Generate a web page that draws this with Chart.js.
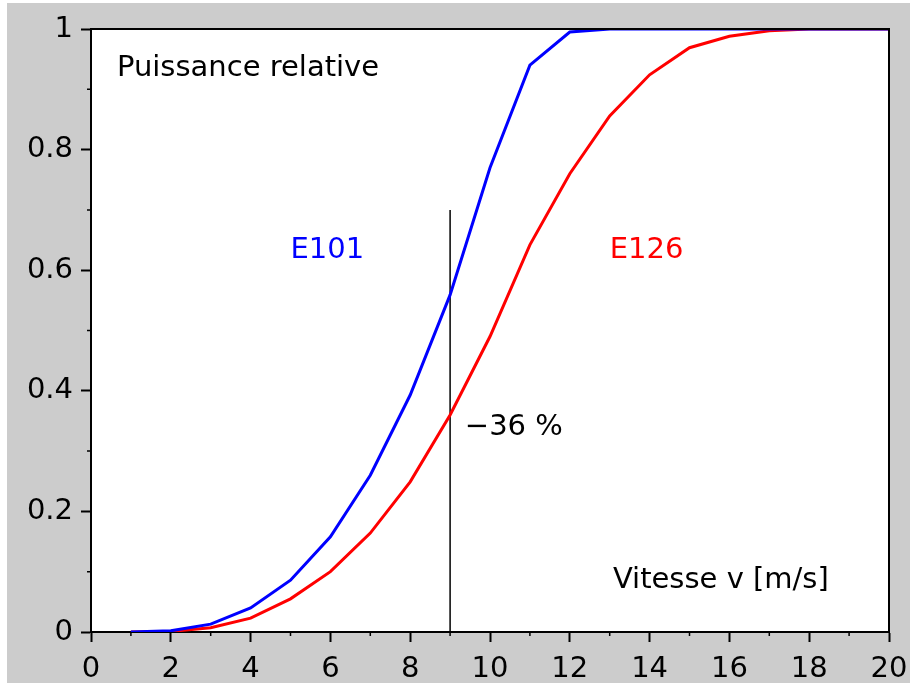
<!DOCTYPE html>
<html>
<head>
<meta charset="utf-8">
<script src="https://cdn.jsdelivr.net/npm/chart.js@4/dist/chart.umd.min.js"></script>
<style>
	html, body { margin: 0; padding: 0; background: #fff; }
	#chart { position: absolute; left: 7px; top: 3px; }
</style>
</head>
<body>
<canvas id="chart" width="903" height="680"></canvas>
<script>
// Vitesse du vent [m/s]
var vitesse = [1, 2, 3, 4, 5, 6, 7, 8, 9, 10, 11, 12, 13, 14, 15, 16, 17, 18, 19, 20];
// Puissance relative
var e101 = [0, 0.002, 0.013, 0.04, 0.086, 0.158, 0.26, 0.393, 0.559, 0.77, 0.94, 0.995, 1, 1, 1, 1, 1, 1, 1, 1];
var e126 = [0, 0.001, 0.007, 0.023, 0.055, 0.1, 0.164, 0.249, 0.36, 0.49, 0.642, 0.76, 0.856, 0.924, 0.969, 0.988, 0.997, 1, 1, 1];
// repere vertical a 9 m/s
var repereX = [9, 9];
var repereY = [0, 0.7];

var xTicks = [0, 2, 4, 6, 8, 10, 12, 14, 16, 18, 20];
var yTicks = [0, 0.2, 0.4, 0.6, 0.8, 1];

var FONT = '"DejaVu Sans", sans-serif';

function pts(xs, ys) {
	return xs.map(function(x, i) { return { x: x, y: ys[i] }; });
}

var decorPlugin = {
	id: 'decor',
	beforeDraw: function(chart) {
		var c = chart.ctx, a = chart.chartArea;
		c.save();
		c.fillStyle = '#cccccc';
		c.fillRect(0, 0, chart.width, chart.height);
		c.fillStyle = '#ffffff';
		c.fillRect(a.left, a.top, a.right - a.left, a.bottom - a.top);
		c.restore();
	},
	afterDraw: function(chart) {
		var c = chart.ctx, a = chart.chartArea;
		var sx = chart.scales.x, sy = chart.scales.y;
		c.save();
		// cadre haut et droit
		c.strokeStyle = '#000';
		c.lineWidth = 2;
		c.beginPath();
		c.moveTo(a.left, a.top);
		c.lineTo(a.right, a.top);
		c.lineTo(a.right, a.bottom);
		c.stroke();
		// graduations secondaires
		c.lineWidth = 1.5;
		c.beginPath();
		for (var i = 1; i < 20; i += 2) {
			var px = sx.getPixelForValue(i);
			c.moveTo(px, a.bottom);
			c.lineTo(px, a.bottom + 4);
		}
		for (var j = 1; j < 10; j += 2) {
			var py = sy.getPixelForValue(j / 10);
			c.moveTo(a.left, py);
			c.lineTo(a.left - 4, py);
		}
		c.stroke();

		// textes
		c.font = '29px ' + FONT;
		c.textBaseline = 'alphabetic';
		c.textAlign = 'left';
		function txt(s, x, y, col) {
			c.fillStyle = col;
			c.fillText(s, sx.getPixelForValue(x), sy.getPixelForValue(y));
		}
		txt('Puissance relative', 0.65, 0.922, '#000');
		txt('E101', 5.0, 0.62, '#0000ff');
		txt('E126', 13.0, 0.62, '#ff0000');
		txt('\u221236 %', 9.37, 0.327, '#000');
		txt('Vitesse v [m/s]', 13.08, 0.073, '#000');
		c.restore();
	}
};

new Chart(document.getElementById('chart'), {
	type: 'line',
	data: {
		datasets: [
			{
				label: 'E101',
				data: pts(vitesse, e101),
				borderColor: '#0000ff',
				borderWidth: 3,
				pointRadius: 0,
				tension: 0
			},
			{
				label: 'E126',
				data: pts(vitesse, e126),
				borderColor: '#ff0000',
				borderWidth: 3,
				pointRadius: 0,
				tension: 0
			},
			{
				label: 'repere',
				data: pts(repereX, repereY),
				borderColor: '#000',
				borderWidth: 1.5,
				pointRadius: 0
			}
		]
	},
	options: {
		responsive: false,
		animation: false,
		layout: { padding: { top: 26, right: 21, left: 0, bottom: 0 } },
		plugins: {
			legend: { display: false },
			tooltip: { enabled: false }
		},
		scales: {
			x: {
				type: 'linear',
				min: 0,
				max: 20,
				afterBuildTicks: function(s) { s.ticks = xTicks.map(function(v) { return { value: v }; }); },
				afterFit: function(s) { s.height = 51; s.paddingLeft = 0; s.paddingRight = 0; },
				ticks: {
					color: '#000',
					font: { family: FONT, size: 29 },
					padding: 10,
					maxRotation: 0,
					autoSkip: false
				},
				grid: {
					drawOnChartArea: false,
					tickLength: 10,
					tickColor: '#000',
					tickWidth: 2
				},
				border: { color: '#000', width: 2 }
			},
			y: {
				min: 0,
				max: 1,
				afterBuildTicks: function(s) { s.ticks = yTicks.map(function(v) { return { value: v }; }); },
				afterFit: function(s) { s.width = 84; s.paddingTop = 0; s.paddingBottom = 0; },
				ticks: {
					color: '#000',
					font: { family: FONT, size: 29 },
					padding: 8,
					autoSkip: false,
					callback: function(v) { return String(Math.round(v * 10) / 10); }
				},
				grid: {
					drawOnChartArea: false,
					tickLength: 10,
					tickColor: '#000',
					tickWidth: 2
				},
				border: { color: '#000', width: 2 }
			}
		}
	},
	plugins: [decorPlugin]
});
</script>
</body>
</html>
